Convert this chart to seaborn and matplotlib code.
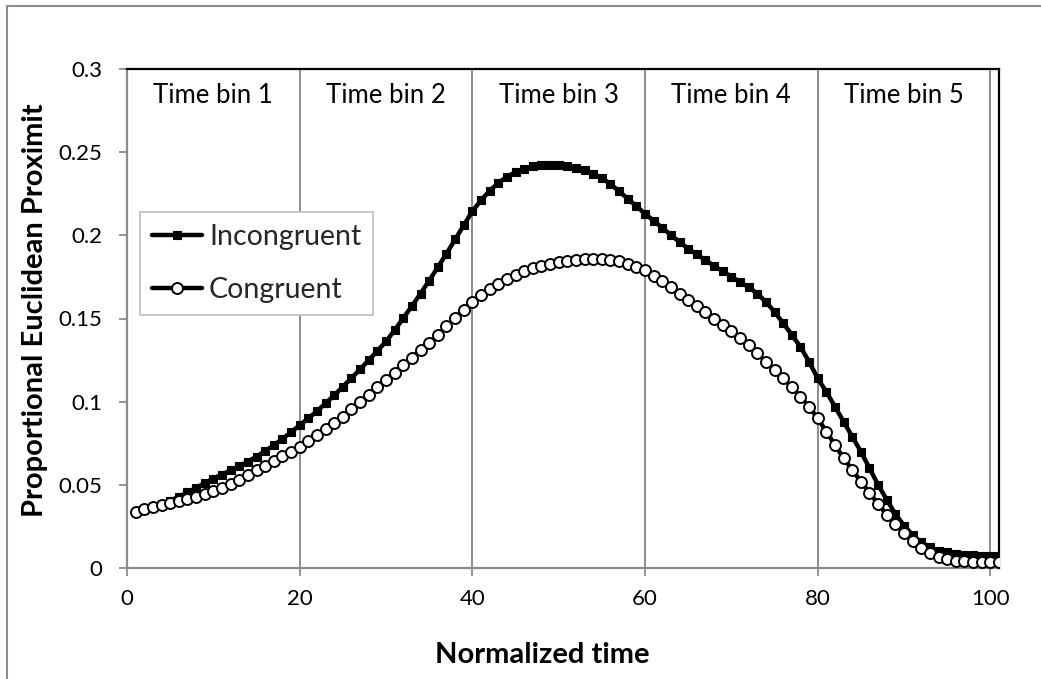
import numpy as np
import pandas as pd
import matplotlib
matplotlib.use("Agg")
import matplotlib.pyplot as plt
from matplotlib.patches import Rectangle
import seaborn as sns

# ---------------- data ----------------
normalized_time = list(range(1, 102))

incongruent = [
    0.0335, 0.0350, 0.0367, 0.0385, 0.0405, 0.0428, 0.0455, 0.0482, 0.0510, 0.0538,
    0.0562, 0.0587, 0.0612, 0.0640, 0.0670, 0.0703, 0.0738, 0.0776, 0.0816, 0.0858,
    0.0900, 0.0943, 0.0990, 0.1038, 0.1090, 0.1142, 0.1195, 0.1250, 0.1305, 0.1362,
    0.1430, 0.1502, 0.1575, 0.1650, 0.1728, 0.1808, 0.1890, 0.1975, 0.2060, 0.2145,
    0.2210, 0.2268, 0.2315, 0.2352, 0.2380, 0.2400, 0.2415, 0.2423, 0.2425, 0.2422,
    0.2415, 0.2405, 0.2390, 0.2370, 0.2345, 0.2308, 0.2265, 0.2220, 0.2175, 0.2130,
    0.2088, 0.2045, 0.2002, 0.1960, 0.1920, 0.1885, 0.1850, 0.1817, 0.1784, 0.1752,
    0.1720, 0.1688, 0.1650, 0.1600, 0.1540, 0.1472, 0.1402, 0.1330, 0.1240, 0.1140,
    0.1060, 0.0970, 0.0880, 0.0790, 0.0700, 0.0600, 0.0500, 0.0410, 0.0325, 0.0255,
    0.0198, 0.0155, 0.0125, 0.0105, 0.0095, 0.0087, 0.0081, 0.0077, 0.0074, 0.0072,
    0.0070,
]

congruent = [
    0.0337, 0.0352, 0.0365, 0.0377, 0.0390, 0.0402, 0.0415, 0.0428, 0.0443, 0.0460,
    0.0482, 0.0505, 0.0530, 0.0558, 0.0588, 0.0615, 0.0643, 0.0672, 0.0700, 0.0730,
    0.0764, 0.0798, 0.0835, 0.0872, 0.0910, 0.0953, 0.0997, 0.1042, 0.1087, 0.1130,
    0.1175, 0.1220, 0.1265, 0.1310, 0.1352, 0.1402, 0.1452, 0.1502, 0.1552, 0.1598,
    0.1640, 0.1675, 0.1705, 0.1735, 0.1760, 0.1783, 0.1802, 0.1818, 0.1830, 0.1840,
    0.1848, 0.1854, 0.1858, 0.1860, 0.1858, 0.1852, 0.1843, 0.1830, 0.1812, 0.1790,
    0.1758, 0.1724, 0.1688, 0.1650, 0.1612, 0.1575, 0.1537, 0.1498, 0.1460, 0.1422,
    0.1382, 0.1340, 0.1292, 0.1240, 0.1190, 0.1140, 0.1087, 0.1030, 0.0970, 0.0900,
    0.0820, 0.0740, 0.0660, 0.0590, 0.0520, 0.0452, 0.0385, 0.0320, 0.0262, 0.0210,
    0.0162, 0.0120, 0.0088, 0.0065, 0.0052, 0.0045, 0.0041, 0.0038, 0.0037, 0.0036,
    0.0035,
]

bin_edges = [0, 20, 40, 60, 80, 100]
bin_labels = ["Time bin 1", "Time bin 2", "Time bin 3", "Time bin 4", "Time bin 5"]
y_ticks = [0, 0.05, 0.1, 0.15, 0.2, 0.25, 0.3]
y_tick_labels = ["0", "0.05", "0.1", "0.15", "0.2", "0.25", "0.3"]
x_ticks = [0, 20, 40, 60, 80, 100]

# ---------------- figure ----------------
sns.set_theme(style="white")
plt.rcParams["font.family"] = ["Lato", "DejaVu Sans"]

W, H = 1041, 679
fig = plt.figure(figsize=(W / 100, H / 100), dpi=100)
ax = fig.add_axes([127 / W, 1 - 568 / H, 872 / W, 499 / H])

grey = "#8c8c8c"

# time bin separators
for e in bin_edges[1:]:
    ax.axvline(e, color=grey, lw=1.4, zorder=1)

df_inc = pd.DataFrame({"t": normalized_time, "v": incongruent})
df_con = pd.DataFrame({"t": normalized_time, "v": congruent})

sns.lineplot(data=df_inc, x="t", y="v", ax=ax, color="black", lw=3.2,
             marker="s", markersize=5.6, markeredgecolor="black",
             markerfacecolor="black", markeredgewidth=0.8,
             label="Incongruent", zorder=3)
sns.lineplot(data=df_con, x="t", y="v", ax=ax, color="black", lw=3.2,
             marker="o", markersize=7.9, markeredgecolor="black",
             markerfacecolor="white", markeredgewidth=1.4,
             label="Congruent", zorder=4)

ax.set_xlim(0, 101)
ax.set_ylim(0, 0.3)
ax.set_xticks(x_ticks)
ax.set_xticklabels([str(v) for v in x_ticks])
ax.set_yticks(y_ticks)
ax.set_yticklabels(y_tick_labels)
ax.tick_params(axis="both", which="major", direction="out", length=6,
               width=1.3, color=grey, labelsize=16, labelcolor="black",
               bottom=True, left=True)
ax.tick_params(axis="x", pad=9)
ax.tick_params(axis="y", pad=12)

for s in ["left", "bottom"]:
    ax.spines[s].set_color(grey)
    ax.spines[s].set_linewidth(1.6)
for s in ["top", "right"]:
    ax.spines[s].set_color("black")
    ax.spines[s].set_linewidth(1.6)

# bin labels
for i, lab in enumerate(bin_labels):
    cx = (bin_edges[i] + bin_edges[i + 1]) / 2
    ax.text(cx, 0.284, lab, ha="center", va="center", fontsize=18.5, color="black")

# axis titles
ax.set_xlabel("Normalized time", fontsize=21, fontweight="bold", color="black")
ax.xaxis.label.set_va("center")
ax.xaxis.set_label_coords((542 - 127) / 872, (568 - 655) / 499)
ax.set_ylabel("Proportional Euclidean Proximit", fontsize=21, fontweight="bold",
              color="black")
ax.yaxis.label.set_va("center")
ax.yaxis.set_label_coords((35 - 127) / 872, (568 - 310) / 499)

# legend
leg = ax.legend(loc="upper left", bbox_to_anchor=(140 / W, 1 - 212 / H),
                bbox_transform=fig.transFigure, borderaxespad=0,
                fontsize=20.5, frameon=True, fancybox=False, framealpha=1,
                edgecolor="#bfbfbf", handlelength=1.75, handletextpad=0.25,
                labelspacing=0.95, borderpad=0.42)
leg.get_frame().set_linewidth(1.2)

# chart-area border
fig.add_artist(Rectangle((7 / W, -0.1), 1.2, 1.1 - 6 / H, transform=fig.transFigure,
                         fill=False, edgecolor=grey, lw=1.5))

fig.savefig("out.png", dpi=100)
